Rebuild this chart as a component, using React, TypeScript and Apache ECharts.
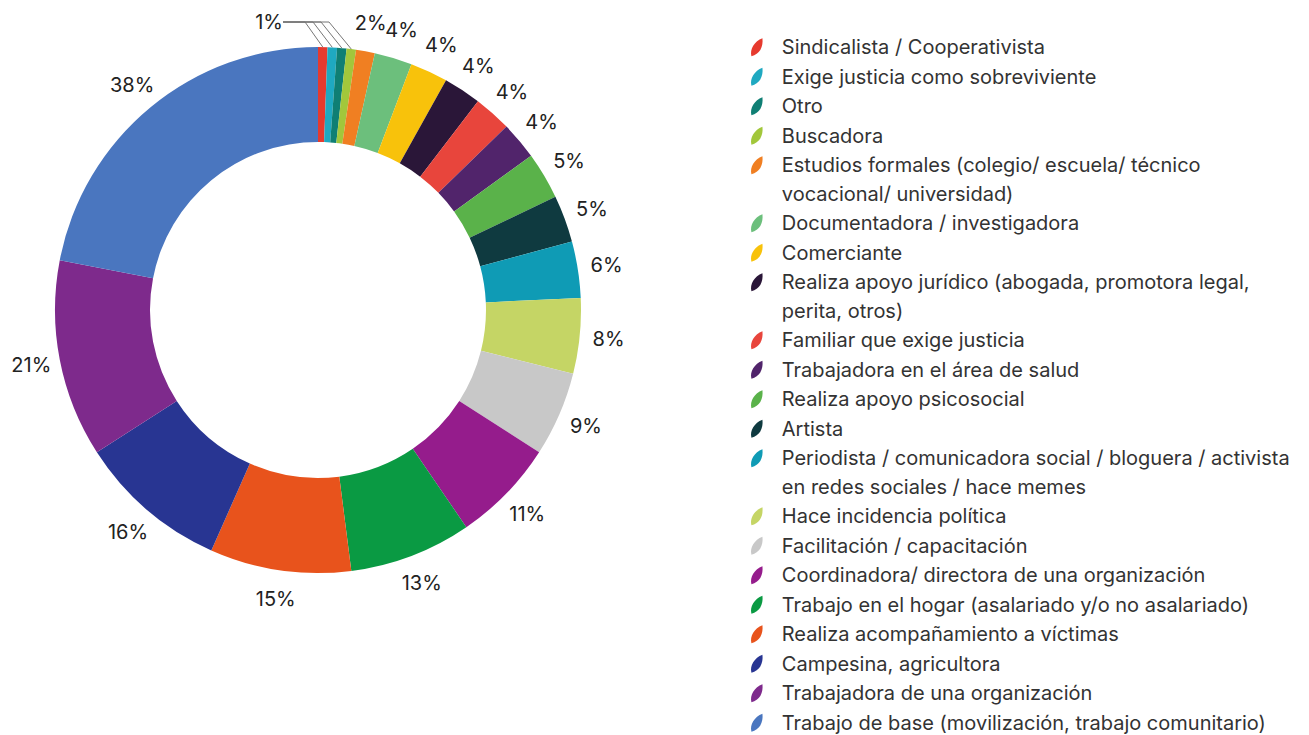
import React, { useEffect, useRef } from "react";
import * as echarts from "echarts";

const categories = [
  "Sindicalista / Cooperativista",
  "Exige justicia como sobreviviente",
  "Otro",
  "Buscadora",
  "Estudios formales (colegio/ escuela/ técnico\nvocacional/ universidad)",
  "Documentadora / investigadora",
  "Comerciante",
  "Realiza apoyo jurídico (abogada, promotora legal,\nperita, otros)",
  "Familiar que exige justicia",
  "Trabajadora en el área de salud",
  "Realiza apoyo psicosocial",
  "Artista",
  "Periodista / comunicadora social / bloguera / activista\nen redes sociales / hace memes",
  "Hace incidencia política",
  "Facilitación / capacitación",
  "Coordinadora/ directora de una organización",
  "Trabajo en el hogar (asalariado y/o no asalariado)",
  "Realiza acompañamiento a víctimas",
  "Campesina, agricultora",
  "Trabajadora de una organización",
  "Trabajo de base (movilización, trabajo comunitario)",
];

const values = [1, 1, 1, 1, 2, 4, 4, 4, 4, 4, 5, 5, 6, 8, 9, 11, 13, 15, 16, 21, 38];

const colors = [
  "#e63a2e",
  "#1fa9c1",
  "#0f7f74",
  "#a2c73b",
  "#f07f22",
  "#6cbf7c",
  "#f8c20b",
  "#2a1638",
  "#e8453c",
  "#51246b",
  "#5ab24a",
  "#0f3a40",
  "#0f9bb5",
  "#c5d565",
  "#c8c8c8",
  "#951c8c",
  "#0a9a43",
  "#e8531c",
  "#283592",
  "#7e2a8c",
  "#4a76bf",
];

// number of smallest slices grouped under one shared "1%" label
const GROUPED = 4;

const LEAF = "path://M1,18 C-1,11 4,3 12,0 C13,9 9,16 1,18 Z";

const CX = 318;
const CY = 310;
const R_IN = 168;
const R_OUT = 263;
const LABEL_R = 292;
const LINE_H = 28.5;

export default function App() {
  const ref = useRef<HTMLDivElement>(null);

  useEffect(() => {
    if (!ref.current) return;
    const chart = echarts.init(ref.current, null, { renderer: "svg" });
    const fontFamily = "Inter, 'Noto Sans', sans-serif";

    const mainData = categories.map((name, i) => ({
      name,
      value: values[i],
      itemStyle: { color: colors[i] },
      labelLine: {
        show: true,
        length: 10,
        length2: i < GROUPED ? 22 + 8 * i : 5,
        lineStyle: { color: "#777", width: 1, opacity: i < GROUPED ? 1 : 0 },
      },
    }));

    const legendData = categories.map((name) => ({
      name,
      textStyle: name.includes("\n")
        ? { padding: [0, 0, -LINE_H, 14] }
        : { padding: [0, 0, 0, 14] },
    }));

    chart.setOption({
      animation: false,
      legend: {
        orient: "vertical",
        left: 751,
        top: 33,
        height: 715,
        padding: 0,
        itemWidth: 12,
        itemHeight: 18,
        itemGap: 1.0,
        icon: LEAF,
        selectedMode: false,
        itemStyle: { borderWidth: 0 },
        data: legendData,
        formatter: (name: string) =>
          name
            .split("\n")
            .map((s) => `{t|${s}}`)
            .join("\n"),
        textStyle: {
          fontFamily,
          fontSize: 20,
          color: "#333",
          lineHeight: LINE_H,
          padding: [0, 0, 0, 14],
          rich: {
            t: {
              fontFamily,
              fontSize: 20,
              color: "#333",
              lineHeight: LINE_H,
              height: LINE_H,
              backgroundColor: "rgba(255,255,255,0)",
            },
          },
        },
      },
      series: [
        {
          type: "pie",
          center: [CX, CY],
          radius: [R_IN, R_OUT],
          startAngle: 90,
          clockwise: true,
          avoidLabelOverlap: false,
          silent: true,
          itemStyle: { borderWidth: 0 },
          data: mainData,
          label: {
            show: true,
            position: "outside",
            fontFamily,
            fontSize: 20,
            color: "#222",
            formatter: (p: any) =>
              p.dataIndex < GROUPED ? (p.dataIndex === 0 ? `${p.value}%` : " ") : `${p.value}%`,
          },
          labelLine: { minTurnAngle: 30 },
          labelLayout: (p: any) => {
            if (p.dataIndex < GROUPED) {
              return { x: 283, y: 22, align: "right", verticalAlign: "middle" };
            }
            const pts = p.labelLinePoints;
            if (!pts || !pts[0]) return {};
            const dx = pts[0][0] - CX;
            const dy = pts[0][1] - CY;
            const len = Math.hypot(dx, dy) || 1;
            return {
              x: CX + (dx / len) * LABEL_R,
              y: CY + (dy / len) * LABEL_R,
              align: "center",
              verticalAlign: "middle",
            };
          },
        },
      ],
    });

    return () => chart.dispose();
  }, []);

  return (
    <div
      ref={ref}
      style={{ position: "fixed", left: 0, top: 0, width: 1309, height: 735, background: "#fff" }}
    />
  );
}
